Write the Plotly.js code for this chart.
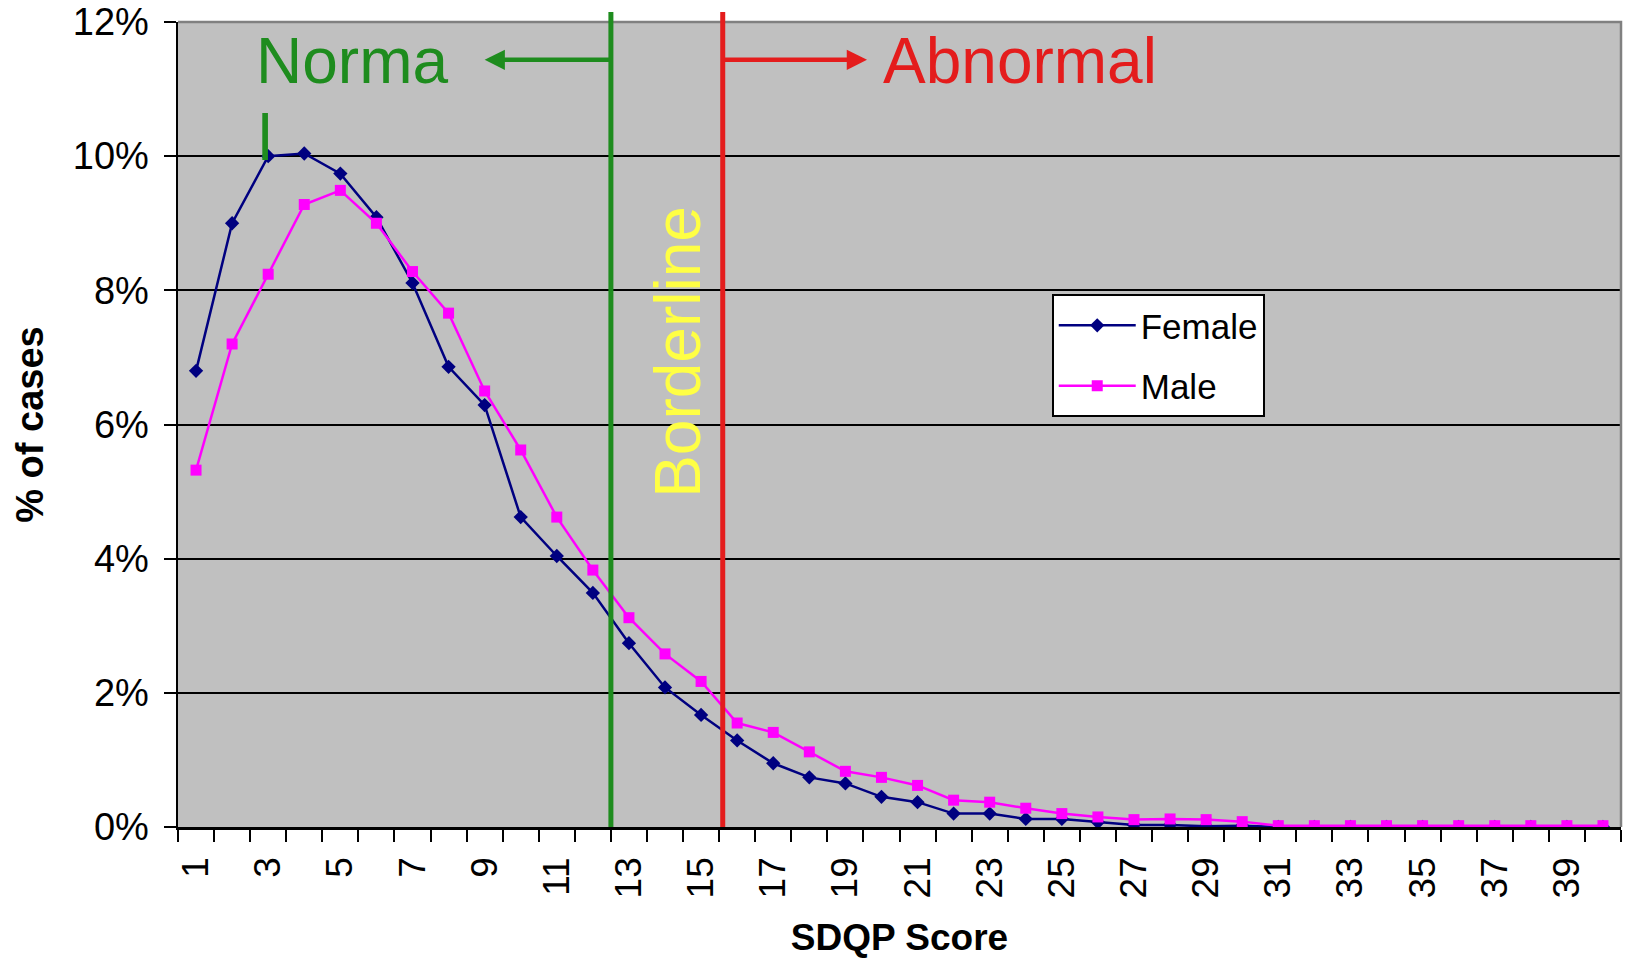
<!DOCTYPE html>
<html>
<head>
<meta charset="utf-8">
<script src="https://cdn.plot.ly/plotly-3.0.1.min.js"></script>
<style>
html,body{margin:0;padding:0;background:#ffffff;}
#chart{width:1633px;height:958px;}
</style>
</head>
<body>
<div id="chart"></div>
<script>
// SDQP score categories
const scores = [1,2,3,4,5,6,7,8,9,10,11,12,13,14,15,16,17,18,19,20,
                21,22,23,24,25,26,27,28,29,30,31,32,33,34,35,36,37,38,39,40];
// % of cases by score
const female = [6.80,9.00,10.00,10.04,9.74,9.09,8.11,6.86,6.29,4.62,
                4.04,3.49,2.74,2.08,1.67,1.29,0.95,0.74,0.65,0.45,
                0.37,0.20,0.20,0.12,0.12,0.07,0.03,0.03,0.01,0.02,
                0,0,0,0,0,0,0,0,0,0];
const male = [5.32,7.20,8.24,9.28,9.49,9.00,8.28,7.66,6.50,5.62,
              4.62,3.83,3.12,2.58,2.17,1.55,1.41,1.12,0.83,0.74,
              0.62,0.40,0.37,0.28,0.20,0.15,0.11,0.12,0.11,0.08,
              0.02,0.02,0.02,0.02,0.02,0.02,0.02,0.02,0.02,0.02];
const xTickVals = [1,3,5,7,9,11,13,15,17,19,21,23,25,27,29,31,33,35,37,39];
const yTickVals = [0,2,4,6,8,10,12];
const yTickText = ['0%','2%','4%','6%','8%','10%','12%'];
// band cut-offs (positions on the score axis)
const normalCut = 12.5;
const abnormalCut = 15.6;

const FONT = '"Liberation Sans", Arial, sans-serif';
const GREEN = '#1e8c1e';
const RED = '#e41c1c';
const YELLOW = '#ffff44';

const traces = [
  {x: scores, y: female, name: 'Female', type: 'scatter', mode: 'lines+markers',
   legendgroup: 'f',
   line: {color: '#000080', width: 2.5},
   marker: {symbol: 'diamond', size: 11, color: '#000080'}},
  {x: scores, y: male, name: 'Male', type: 'scatter', mode: 'lines+markers',
   legendgroup: 'm',
   line: {color: '#ff00ff', width: 2.5},
   marker: {symbol: 'square', size: 11, color: '#ff00ff'}}
];

const layout = {
  width: 1633, height: 958,
  margin: {l: 178, r: 12, t: 22, b: 131},
  paper_bgcolor: '#ffffff',
  plot_bgcolor: '#c0c0c0',
  font: {family: FONT, color: '#000000'},
  showlegend: true,
  legend: {x: 0.6055, y: 0.662, xanchor: 'left', yanchor: 'top',
           bgcolor: '#ffffff', bordercolor: '#000000', borderwidth: 2,
           traceorder: 'grouped', tracegroupgap: 12, itemwidth: 77,
           font: {family: FONT, size: 35, color: '#000000'}},
  xaxis: {
    range: [0.5, 40.5], tickmode: 'array', tickvals: xTickVals,
    ticktext: xTickVals.map(String), tickangle: -90, ticks: '',
    tickfont: {family: FONT, size: 37, color: '#000000'},
    ticklabelstandoff: 13,
    showgrid: false, zeroline: false,
    showline: true, linecolor: '#000000', linewidth: 2.5,
    minor: {tickmode: 'linear', tick0: 0.5, dtick: 1, ticks: 'outside',
            ticklen: 12, tickwidth: 2, tickcolor: '#000000', showgrid: false},
    title: {text: 'SDQP Score', font: {family: FONT, size: 37, color: '#000000', weight: 'bold'}, standoff: 31}
  },
  yaxis: {
    range: [0, 12], tickmode: 'array', tickvals: yTickVals, ticktext: yTickText,
    ticks: 'outside', ticklen: 12, tickwidth: 2, tickcolor: '#000000',
    tickfont: {family: FONT, size: 38, color: '#000000'},
    ticklabelstandoff: 7,
    showgrid: true, gridcolor: '#000000', gridwidth: 2,
    zeroline: false,
    showline: true, linecolor: '#000000', linewidth: 2.5,
    title: {text: '% of cases', font: {family: FONT, size: 38, color: '#000000', weight: 'bold'}, standoff: 18}
  },
  shapes: [
    // gray frame top and right
    {type: 'path', xref: 'paper', yref: 'paper', path: 'M 0 1 L 1 1 L 1 0',
     line: {color: '#808080', width: 2.5}, layer: 'above'},
    // normal cut-off
    {type: 'line', xref: 'x', yref: 'paper', x0: normalCut, x1: normalCut, y0: 0, y1: 1.0124,
     line: {color: GREEN, width: 5}, layer: 'above'},
    // abnormal cut-off
    {type: 'line', xref: 'x', yref: 'paper', x0: abnormalCut, x1: abnormalCut, y0: 0, y1: 1.0124,
     line: {color: RED, width: 5}, layer: 'above'}
  ],
  annotations: [
    {text: '', xref: 'x', yref: 'paper', x: 9.0, y: 0.953, axref: 'x', ax: normalCut, ay: 0,
     showarrow: true, arrowhead: 2, arrowsize: 0.9, arrowwidth: 4.5, arrowcolor: GREEN},
    {text: '', xref: 'x', yref: 'paper', x: 19.6, y: 0.953, axref: 'x', ax: abnormalCut, ay: 0,
     showarrow: true, arrowhead: 2, arrowsize: 0.9, arrowwidth: 4.5, arrowcolor: RED},
    {text: 'Norma', xref: 'x', yref: 'paper', x: 2.61, y: 0.951, xanchor: 'left', yanchor: 'middle',
     showarrow: false, font: {family: FONT, size: 64, color: GREEN}},
    {text: 'l', xref: 'x', yref: 'paper', x: 2.91, y: 0.856, xanchor: 'center', yanchor: 'middle',
     showarrow: false, font: {family: FONT, size: 64, color: GREEN}},
    {text: 'Abnormal', xref: 'x', yref: 'paper', x: 20.0, y: 0.951, xanchor: 'left', yanchor: 'middle',
     showarrow: false, font: {family: FONT, size: 64, color: RED}},
    {text: 'Borderline', xref: 'x', yref: 'paper', x: 14.37, y: 0.5907, xanchor: 'center', yanchor: 'middle',
     textangle: -90, showarrow: false, font: {family: FONT, size: 64, color: YELLOW}}
  ]
};

Plotly.newPlot('chart', traces, layout, {displayModeBar: false, staticPlot: true});
</script>
</body>
</html>
